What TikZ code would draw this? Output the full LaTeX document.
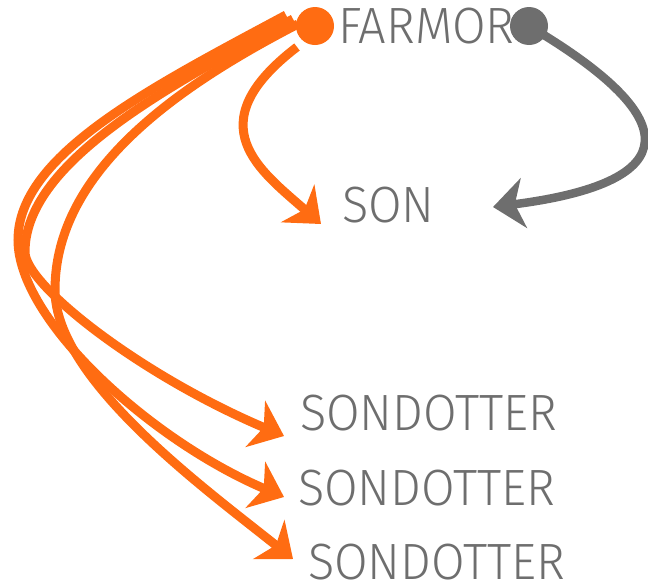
\documentclass[tikz,border=0pt]{standalone}
\usepackage{fontspec}
\newfontfamily\dinfont{Fira Sans Light}[FakeStretch=0.955]
\usetikzlibrary{arrows.meta,backgrounds}
\definecolor{famorange}{RGB}{255,108,18}
\definecolor{famgray}{RGB}{110,110,110}

\begin{document}
\begin{tikzpicture}
	[
	 x = 1pt, y = -1pt,
	 every node/.style = {inner sep = 0pt, outer sep = 0pt},
	 lbl/.style  = {anchor = base west, text = famgray,
	                font = \dinfont\fontsize{51pt}{60pt}\selectfont},
	 blob/.style = {circle, minimum size = 38pt},
	 arrowed/.style = {-{Stealth[length = 31pt, width = 50pt, inset = 9pt]}},
	 OL/.style = {arrowed, draw = famorange, line width = 9pt},
	 GL/.style = {arrowed, draw = famgray, line width = 8.5pt}
	]

	\useasboundingbox (0,0) rectangle (648,584);

	\node [blob, fill = famorange] (FD) at (315,26) {};
	\node [blob, fill = famgray]   (GD) at (529,26) {};
	\node [lbl] (F)   at (338,43)  {FARMOR};
	\node [lbl] (S)   at (342,222) {SON};
	\node [lbl] (SD1) at (300,430) {SONDOTTER};
	\node [lbl] (SD2) at (298,505) {SONDOTTER};
	\node [lbl] (SD3) at (308,579) {SONDOTTER};

	\begin{scope}[on background layer]
	 % farmor -> son
	 \draw [OL] ([shift={(-18,21)}]FD.center)
	            .. controls (195,125) and (261,171) .. ([shift={(-21,2)}]S.base west);
	 % farmor -> sondotter (three)
	 \draw [OL] ([shift={(-22,-7)}]FD.center)
	            .. controls (160,90) and (25,165) .. (25,252)
	            .. controls (25,285) and (140,375) .. ([shift={(-16,6)}]SD1.base west);
	 \draw [OL] ([shift={(-29,-11)}]FD.center)
	            .. controls (150,88) and (18,155) .. (18,240)
	            .. controls (18,320) and (150,440) .. ([shift={(-14,-8)}]SD2.base west);
	 \draw [OL] ([shift={(-17,-2)}]FD.center)
	            .. controls (180,85) and (55,170) .. (55,290)
	            .. controls (55,380) and (207,490) .. ([shift={(-15,-20)}]SD3.base west);
	 % gray dot -> son
	 \draw [GL] (GD.center)
	            .. controls (705,130) and (665,185) .. ([shift={(151,-15)}]S.base west);
	\end{scope}
\end{tikzpicture}
\end{document}
